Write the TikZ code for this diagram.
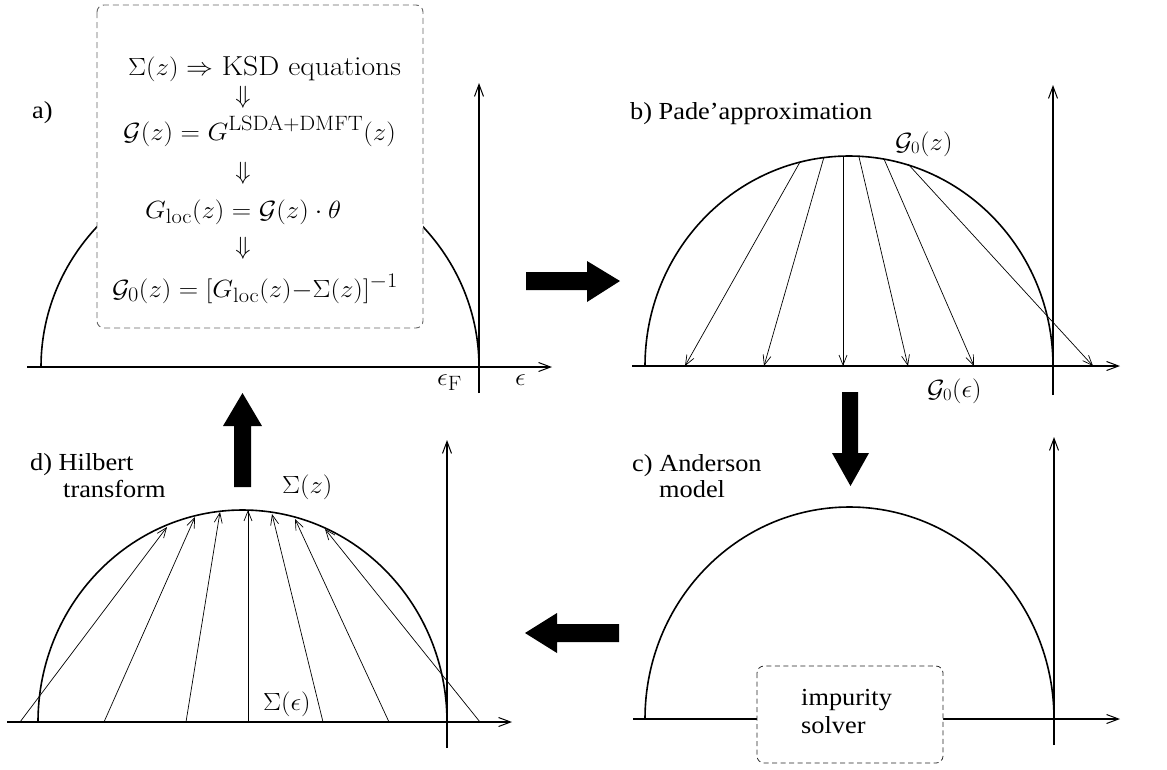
\documentclass[tikz,border=0pt]{standalone}
\usepackage[no-math]{fontspec}
\newfontfamily\tms{Liberation Serif}
\usetikzlibrary{arrows.meta}
\DeclareMathSizes{27.5}{27.5}{21.5}{16}
\newcommand\hx[1]{\scalebox{1.075}[1]{#1}}
\newcommand\mx[1]{\scalebox{1.08}[1]{#1}}
\begin{document}
\begin{tikzpicture}[x=1pt,y=-1pt,
  curve/.style={line width=1.6pt},
  axis/.style={line width=1.5pt,-{Straight Barb[length=12pt,width=9pt,line width=1pt]}},
  vaxis/.style={line width=1.2pt,-{Straight Barb[length=12pt,width=9pt,line width=1pt]}},
  ray/.style={line width=0.7pt,-{Straight Barb[length=10pt,width=8pt,line width=0.7pt]}},
  lab/.style={inner sep=0pt,anchor=base west,font=\tms\fontsize{24.5}{28}\selectfont},
  eq/.style={inner sep=0pt,anchor=base west,font=\fontsize{27.5}{32}\selectfont},
  leq/.style={inner sep=0pt,anchor=base west,font=\fontsize{23}{28}\selectfont},
  dn/.style={inner sep=0pt,anchor=center,font=\fontsize{27.5}{32}\selectfont},
  bigarrow/.style={fill=black,draw=none},
  dboxa/.style={draw=black!60,dash pattern=on 6pt off 4pt,rounded corners=7pt,fill=white,line width=0.9pt},
  dboxc/.style={draw=black!85,dash pattern=on 5pt off 3.5pt,rounded corners=7pt,fill=white,line width=0.8pt}]
\useasboundingbox (0,0) rectangle (1167,769);

% ---------- panel a ----------
\draw[axis] (27,367) -- (552,367);
\draw[vaxis] (479,393) -- (479,83);
\draw[curve] (41,367) arc[start angle=180,end angle=0,x radius=219pt,y radius=210pt];
\draw[dboxa] (97,5) rectangle (423,328);
\node[eq] (l1) at (128,75) {\mx{$\Sigma(z)\Rightarrow$ KSD equations}};
\node[dn] (d1) at (243,97) {$\Downarrow$};
\node[eq] (l2) at (123,140) {\mx{$\mathcal{G}(z)=G^{\mathrm{LSDA+DMFT}}(z)$}};
\node[dn] (d2) at (243,173) {$\Downarrow$};
\node[eq] (l3) at (145,218) {\mx{$G_{\mathrm{loc}}(z)=\mathcal{G}(z)\cdot\theta$}};
\node[dn] (d3) at (243,248) {$\Downarrow$};
\node[eq] (l4) at (112,297) {\mx{$\mathcal{G}_0(z)=[G_{\mathrm{loc}}(z){-}\Sigma(z)]^{-1}$}};
\node[lab] (la) at (32,118) {\hx{a)}};
\node[eq] (ef) at (437,385) {\mx{$\epsilon_{\mathrm{F}}$}};
\node[eq] (e) at (515,385) {\mx{$\epsilon$}};

% ---------- panel b ----------
\draw[axis] (632,366) -- (1120,366);
\draw[vaxis] (1053,395) -- (1053,85);
\draw[curve] (645,366) arc[start angle=180,end angle=0,x radius=204pt,y radius=210pt];
\draw[ray] (800,162) -- (685,366);
\draw[ray] (824,157) -- (764,366);
\draw[ray] (843,156) -- (843,366);
\draw[ray] (859,157) -- (908,366);
\draw[ray] (884,159) -- (974,366);
\draw[ray] (908,164) -- (1093,366);
\node[lab] (lb) at (630,119) {\hx{b) Pade’approximation}};
\node[leq] (gz) at (895,150) {\hx{$\mathcal{G}_0(z)$}};
\node[leq] (ge) at (927,397) {\hx{$\mathcal{G}_0(\epsilon)$}};

% ---------- panel c ----------
\draw[axis] (633,719) -- (1120,719);
\draw[vaxis] (1054,745) -- (1054,437);
\draw[curve] (645,719) arc[start angle=180,end angle=0,x radius=204.5pt,y radius=212pt];
\draw[dboxc] (757,666) rectangle (943,763);
\node[lab] (imp) at (801,705) {\hx{impurity}};
\node[lab] (sol) at (801,733) {\hx{solver}};
\node[lab] (lc1) at (632,471) {\hx{c) Anderson}};
\node[lab] (lc2) at (659,497) {\hx{model}};

% ---------- panel d ----------
\draw[axis] (7,722) -- (512,722);
\draw[vaxis] (447,748) -- (447,440);
\draw[curve] (38,722) arc[start angle=180,end angle=0,x radius=204.5pt,y radius=212pt];
\draw[ray] (20,722) -- (167,527);
\draw[ray] (104,722) -- (195,517);
\draw[ray] (186,722) -- (220,512);
\draw[ray] (248,722) -- (248,510);
\draw[ray] (323,722) -- (272,514);
\draw[ray] (389,722) -- (295,519);
\draw[ray] (480,722) -- (325,529);
\node[leq] (sz) at (282,493) {\hx{$\Sigma(z)$}};
\node[leq] (se) at (263,710) {\hx{$\Sigma(\epsilon)$}};
\node[lab] (ld1) at (30,470) {\hx{d) Hilbert}};
\node[lab] (ld2) at (63,497) {\hx{transform}};

% ---------- big arrows ----------
\fill[bigarrow] (526,272) -- (587,272) -- (587,261) -- (620,281) -- (587,302) -- (587,290) -- (526,290) -- cycle;
\fill[bigarrow] (842,392) -- (858,392) -- (858,453) -- (869,453) -- (850.5,486) -- (832,453) -- (842,453) -- cycle;
\fill[bigarrow] (619,624) -- (557,624) -- (557,613) -- (525,633) -- (557,653) -- (557,642) -- (619,642) -- cycle;
\fill[bigarrow] (234,487) -- (251,487) -- (251,426) -- (262,426) -- (242.5,393) -- (223,426) -- (234,426) -- cycle;
\end{tikzpicture}
\end{document}
